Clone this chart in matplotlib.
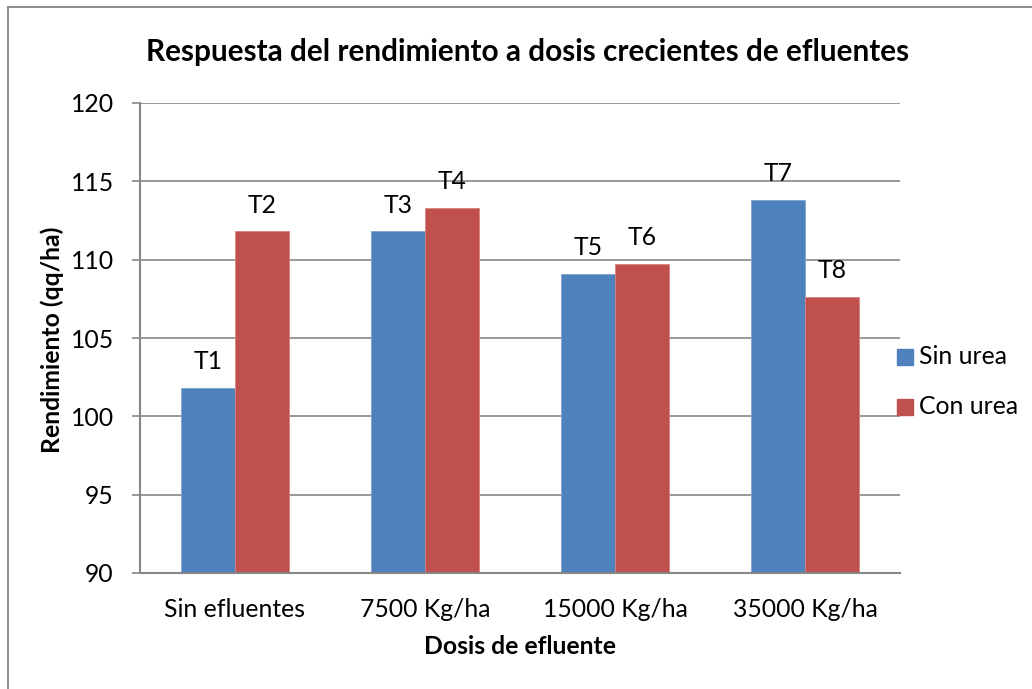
import matplotlib
matplotlib.use("Agg")
import matplotlib.pyplot as plt
import numpy as np
from matplotlib.patches import Rectangle
from matplotlib.lines import Line2D

# --- data ---
categories = ["Sin efluentes", "7500 Kg/ha", "15000 Kg/ha", "35000 Kg/ha"]
sin_urea = [101.8, 111.8, 109.1, 113.8]
con_urea = [111.8, 113.3, 109.7, 107.6]
labels_sin = ["T1", "T3", "T5", "T7"]
labels_con = ["T2", "T4", "T6", "T8"]
series_names = ["Sin urea", "Con urea"]
y_ticks = [90, 95, 100, 105, 110, 115, 120]

COLOR_BLUE = "#4F81BD"
COLOR_RED = "#C0504D"
COLOR_GRID = "#878787"
FONT = ["Lato", "DejaVu Sans"]
FS = 17.8

W, H = 1032, 689
fig = plt.figure(figsize=(W / 100, H / 100), dpi=100)
fig.patch.set_facecolor("white")

# outer chart border (left and top edges only are inside the crop)
fig.add_artist(Line2D([8 / W, 8 / W], [0, 1 - 7 / H], color="#8C8C8C", lw=1.4,
                      transform=fig.transFigure))
fig.add_artist(Line2D([8 / W, 1], [1 - 7 / H, 1 - 7 / H], color="#8C8C8C", lw=1.4,
                      transform=fig.transFigure))

ax = fig.add_axes([140 / W, 1 - 573 / H, 760 / W, 470 / H])

x = np.arange(len(categories))
bw = 0.285
bars1 = ax.bar(x - bw / 2, sin_urea, bw, color=COLOR_BLUE, edgecolor="#7FA3D0",
               linewidth=0.6, zorder=3)
bars2 = ax.bar(x + bw / 2, con_urea, bw, color=COLOR_RED, edgecolor="#D98280",
               linewidth=0.6, zorder=3)

for bars, labs in ((bars1, labels_sin), (bars2, labels_con)):
    for b, lab in zip(bars, labs):
        ax.annotate(lab, xy=(b.get_x() + b.get_width() / 2, b.get_height()),
                    xytext=(0, 19), textcoords="offset points", ha="center", va="center",
                    fontsize=FS, family=FONT, color="black", zorder=5)

ax.set_ylim(90, 120)
ax.set_xlim(-0.5, 3.5)
ax.set_yticks(y_ticks)
ax.set_yticklabels([str(t) for t in y_ticks], fontsize=FS, family=FONT)
ax.set_xticks(x)
ax.set_xticklabels(categories, fontsize=FS, family=FONT)
ax.tick_params(axis="y", length=6, width=1.2, color=COLOR_GRID, pad=13)
ax.tick_params(axis="x", length=0, pad=18)
ax.grid(axis="y", color=COLOR_GRID, lw=1.2, zorder=0)
for s in ("top", "right"):
    ax.spines[s].set_visible(False)
for s in ("left", "bottom"):
    ax.spines[s].set_color(COLOR_GRID)
    ax.spines[s].set_linewidth(1.5)
    ax.spines[s].set_zorder(4)

fig.text(528 / W, 1 - 52 / H, "Respuesta del rendimiento a dosis crecientes de efluentes",
         ha="center", va="center", fontsize=21.4, fontweight="bold", family=FONT)
fig.text(520 / W, 1 - 647 / H, "Dosis de efluente", ha="center", va="center",
         fontsize=FS, fontweight="bold", family=FONT)
fig.text(52 / W, 1 - 340 / H, "Rendimiento (qq/ha)", ha="center", va="center",
         rotation=90, fontsize=FS, fontweight="bold", family=FONT)

# legend
for i, (name, col) in enumerate(zip(series_names, [COLOR_BLUE, COLOR_RED])):
    yc = 357 + i * 50
    fig.add_artist(Rectangle((897 / W, 1 - (yc + 8) / H), 16 / W, 16 / H,
                             color=col, transform=fig.transFigure))
    fig.text(919 / W, 1 - yc / H, name, ha="left", va="center", fontsize=FS,
             family=FONT)

fig.savefig("out.png", dpi=100, facecolor="white")
